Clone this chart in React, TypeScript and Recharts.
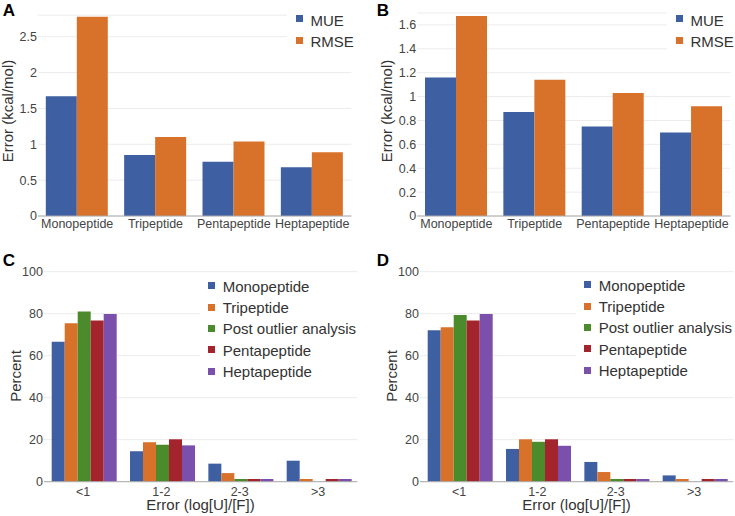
import { BarChart, Bar, XAxis, YAxis, CartesianGrid, Legend, Label } from "recharts";

const FONT = '"Liberation Sans", Arial, Helvetica, sans-serif';

// panel A / B: error per peptide length
const peptides = ["Monopeptide", "Tripeptide", "Pentapeptide", "Heptapeptide"];
const mueA = [1.67, 0.85, 0.755, 0.68];
const rmseA = [2.78, 1.1, 1.04, 0.89];
const mueB = [1.16, 0.87, 0.75, 0.7];
const rmseB = [1.675, 1.14, 1.03, 0.92];
const ticksA = [0, 0.5, 1, 1.5, 2, 2.5];
const ticksB = [0, 0.2, 0.4, 0.6, 0.8, 1, 1.2, 1.4, 1.6];
const errSeries = ["MUE", "RMSE"];

// panel C / D: percent of cases per error bin
const bins = ["<1", "1-2", "2-3", ">3"];
const monoC = [66.7, 14.5, 8.6, 10];
const triC = [75.4, 18.8, 4.1, 1.3];
const postC = [81, 17.6, 1.3, 0];
const pentaC = [76.8, 20.2, 1.3, 1.3];
const heptaC = [79.8, 17.3, 1.3, 1.3];
const monoD = [72.1, 15.6, 9.4, 3.0];
const triD = [73.5, 20.2, 4.6, 1.3];
const postD = [79.4, 19, 1.3, 0];
const pentaD = [76.8, 20.2, 1.3, 1.3];
const heptaD = [79.8, 17.1, 1.3, 1.3];
const ticksPct = [0, 20, 40, 60, 80, 100];
const pctSeries = ["Monopeptide", "Tripeptide", "Post outlier analysis", "Pentapeptide", "Heptapeptide"];

const BLUE = "#3e5fa2";
const ORANGE = "#d8712a";
const GREEN = "#4b8b2b";
const RED = "#a3242c";
const PURPLE = "#7b50ad";
const pctColors = [BLUE, ORANGE, GREEN, RED, PURPLE];

const errA = peptides.map((name, i) => ({ name, MUE: mueA[i], RMSE: rmseA[i] }));
const errB = peptides.map((name, i) => ({ name, MUE: mueB[i], RMSE: rmseB[i] }));
const pctRows = (cols: number[][]) =>
  bins.map((name, i) => {
    const row: any = { name };
    pctSeries.forEach((s, k) => (row[s] = cols[k][i]));
    return row;
  });
const pctC = pctRows([monoC, triC, postC, pentaC, heptaC]);
const pctD = pctRows([monoD, triD, postD, pentaD, heptaD]);

const tickStyle = { fill: "#444", fontSize: 12.5, fontFamily: FONT };

function Keys({ payload, order, rowH, sqTop, gap }: any) {
  const items = [...(payload || [])].sort((a: any, b: any) => order.indexOf(a.value) - order.indexOf(b.value));
  return (
    <div style={{ background: "#fff", fontFamily: FONT }}>
      {items.map((p: any) => (
        <div key={p.value} style={{ position: "relative", height: rowH, paddingLeft: gap }}>
          <div style={{ position: "absolute", left: 0, top: sqTop, width: 7, height: 7, background: p.color }} />
          <span style={{ fontSize: 15, lineHeight: `${rowH}px`, color: "#333", whiteSpace: "nowrap" }}>{p.value}</span>
        </div>
      ))}
    </div>
  );
}

function VTitle({ text, x, y }: { text: string; x: number; y: number }) {
  return (
    <text x={x} y={y} transform={`rotate(-90 ${x} ${y})`} textAnchor="middle" fill="#333" fontSize={15} fontFamily={FONT}>
      {text}
    </text>
  );
}

function HTitle({ text, x, y }: { text: string; x: number; y: number }) {
  return (
    <text x={x} y={y} textAnchor="middle" fill="#333" fontSize={15} fontFamily={FONT}>
      {text}
    </text>
  );
}

function Letter({ ch, left, top }: { ch: string; left: number; top: number }) {
  return (
    <div style={{ position: "absolute", left, top, fontFamily: FONT, fontWeight: 700, fontSize: 17, lineHeight: "17px", color: "#000" }}>
      {ch}
    </div>
  );
}

function ErrorPanel({ data, ticks, max, top, yAxisW, right, legendLeft, titleX }: any) {
  return (
    <BarChart width={yAxisW + 313.4 + right} height={250} data={data} margin={{ top, right, bottom: 0, left: 0 }} barCategoryGap={7.8} barGap={0}>
      <CartesianGrid vertical={false} stroke="#ececec" />
      <XAxis dataKey="name" height={34} tick={tickStyle} tickLine={false} tickSize={0} tickMargin={3.5} axisLine={{ stroke: "#aaa" }} interval={0} />
      <YAxis width={yAxisW} domain={[0, max]} ticks={ticks} tick={tickStyle} tickLine={false} tickSize={0} tickMargin={1} axisLine={false}>
        <Label content={() => <VTitle text="Error (kcal/mol)" x={titleX} y={111} />} />
      </YAxis>
      <Legend
        layout="vertical"
        align="center"
        verticalAlign="middle"
        wrapperStyle={{ left: legendLeft - 9, top: 9.5, width: 90, paddingLeft: 9, paddingBottom: 6, background: "#fff" }}
        content={(p: any) => <Keys payload={p.payload} order={errSeries} rowH={21.7} sqTop={5.5} gap={14.5} />}
      />
      <Bar dataKey="MUE" fill={BLUE} isAnimationActive={false} />
      <Bar dataKey="RMSE" fill={ORANGE} isAnimationActive={false} />
    </BarChart>
  );
}

function PercentPanel({ data, yAxisW, right, legendLeft, legendTop, titleX, xTitleX }: any) {
  return (
    <BarChart width={yAxisW + 313.3 + right} height={266} data={data} margin={{ top: 21.7, right, bottom: 0, left: 0 }} barCategoryGap={7.8} barGap={0}>
      <CartesianGrid vertical={false} stroke="#ececec" />
      <XAxis dataKey="name" height={34.3} tick={tickStyle} tickLine={false} tickSize={0} tickMargin={5} axisLine={{ stroke: "#aaa" }} interval={0}>
        <Label content={() => <HTitle text="Error (log[U]/[F])" x={xTitleX} y={259.5} />} />
      </XAxis>
      <YAxis width={yAxisW} domain={[0, 100]} ticks={ticksPct} tick={tickStyle} tickLine={false} tickSize={0} tickMargin={1} axisLine={false}>
        <Label content={() => <VTitle text="Percent" x={titleX} y={126} />} />
      </YAxis>
      <Legend
        layout="vertical"
        align="center"
        verticalAlign="middle"
        wrapperStyle={{ left: legendLeft - 8, top: legendTop, width: 162, paddingLeft: 8, paddingBottom: 6, background: "#fff" }}
        content={(p: any) => <Keys payload={p.payload} order={pctSeries} rowH={21.3} sqTop={6.6} gap={14.4} />}
      />
      {pctSeries.map((s, k) => (
        <Bar key={s} dataKey={s} fill={pctColors[k]} isAnimationActive={false} />
      ))}
    </BarChart>
  );
}

export default function App() {
  return (
    <div style={{ position: "absolute", left: 0, top: 0, width: 735, height: 516, background: "#fff", overflow: "hidden" }}>
      <div style={{ position: "absolute", left: 0, top: 0 }}>
        <ErrorPanel data={errA} ticks={ticksA} max={2.8} top={15.2} yAxisW={38} right={18.6} legendLeft={296} titleX={12.5} />
      </div>
      <div style={{ position: "absolute", left: 370, top: 0 }}>
        <ErrorPanel data={errB} ticks={ticksB} max={1.7} top={13} yAxisW={47.2} right={4.4} legendLeft={306} titleX={22} />
      </div>
      <div style={{ position: "absolute", left: 0, top: 250 }}>
        <PercentPanel data={pctC} yAxisW={43.9} right={12.8} legendLeft={208.3} legendTop={25.9} titleX={20.7} xTitleX={200.5} />
      </div>
      <div style={{ position: "absolute", left: 370, top: 250 }}>
        <PercentPanel data={pctD} yAxisW={49.9} right={1.8} legendLeft={214.3} legendTop={24.9} titleX={26.7} xTitleX={206.5} />
      </div>
      <Letter ch="A" left={2.7} top={2.3} />
      <Letter ch="B" left={376.7} top={2.3} />
      <Letter ch="C" left={2.7} top={252.4} />
      <Letter ch="D" left={376.7} top={252.4} />
    </div>
  );
}
